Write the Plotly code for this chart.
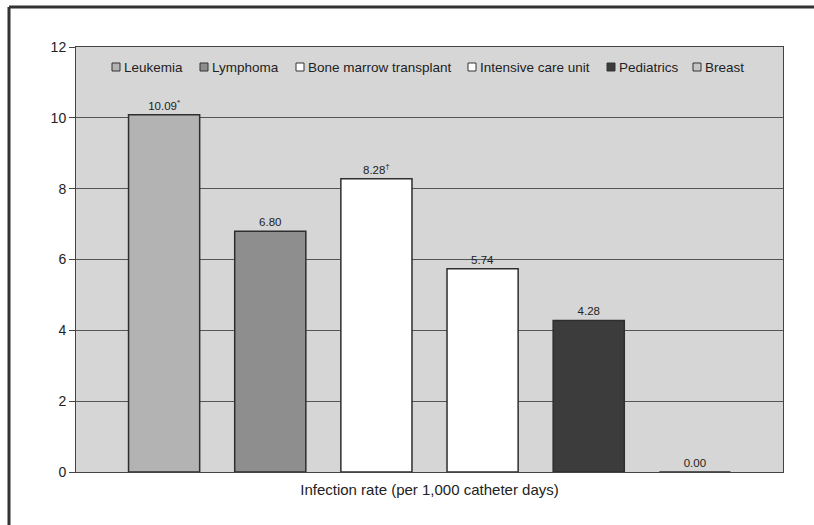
import plotly.graph_objects as go

categories = ["Leukemia", "Lymphoma", "Bone marrow transplant", "Intensive care unit", "Pediatrics", "Breast"]
values = [10.09, 6.80, 8.28, 5.74, 4.28, 0.00]
value_labels = ["10.09<sup>*</sup>", "6.80", "8.28<sup>†</sup>", "5.74", "4.28", "0.00"]
colors = ["#b3b3b3", "#8e8e8e", "#ffffff", "#ffffff", "#3c3c3c", "#c6c6c6"]
y_ticks = [0, 2, 4, 6, 8, 10, 12]
legend_x_px = [112, 200, 296, 468, 607, 693]

W, H = 814, 525
L, R, T, B = 76, 31, 47, 53
pw, ph = W - L - R, H - T - B


def px_x(p):
    return (p - L) / pw


def px_y(p):
    return 1 - (p - T) / ph


fig = go.Figure()
for i, (cat, val, lab, col) in enumerate(zip(categories, values, value_labels, colors)):
    fig.add_trace(go.Bar(
        x=[i], y=[val], name=cat, width=0.67, showlegend=False,
        marker=dict(color=col, line=dict(color="#2e2e2e", width=1.5)),
        text=[lab], textposition="outside", cliponaxis=False,
        textfont=dict(size=11.5, color="#222222"),
    ))

shapes = [
    dict(type="line", xref="paper", yref="paper", x0=px_x(9), x1=px_x(9), y0=px_y(525), y1=px_y(7),
         line=dict(color="#333333", width=3)),
    dict(type="line", xref="paper", yref="paper", x0=px_x(9), x1=px_x(814), y0=px_y(7), y1=px_y(7),
         line=dict(color="#333333", width=3)),
]
annotations = []
ly = 67
for cat, col, lx in zip(categories, colors, legend_x_px):
    shapes.append(dict(type="rect", xref="paper", yref="paper",
                       x0=px_x(lx), x1=px_x(lx + 8), y0=px_y(ly + 4), y1=px_y(ly - 4),
                       fillcolor=col, line=dict(color="#333333", width=1)))
    annotations.append(dict(text=cat, xref="paper", yref="paper", x=px_x(lx + 10), y=px_y(ly),
                            xanchor="left", yanchor="middle", showarrow=False,
                            font=dict(size=13.5, color="#222222")))

fig.update_layout(
    width=W, height=H,
    margin=dict(l=L, r=R, t=T, b=B),
    paper_bgcolor="white", plot_bgcolor="#d6d6d6",
    font=dict(family="Liberation Sans, Arial, sans-serif", color="#222222"),
    showlegend=False,
    xaxis=dict(range=[-0.83, 5.83], showticklabels=False, ticks="", showgrid=False,
               zeroline=False, showline=True, linecolor="#444444", linewidth=1, mirror=True,
               title=dict(text="Infection rate (per 1,000 catheter days)", font=dict(size=15), standoff=12)),
    yaxis=dict(range=[0, 12], tickvals=y_ticks, ticks="outside", ticklen=6, tickcolor="#444444",
               showgrid=True, gridcolor="#555555", gridwidth=1, zeroline=False,
               showline=True, linecolor="#444444", linewidth=1, mirror=True,
               tickfont=dict(size=14, color="#222222")),
    shapes=shapes,
    annotations=annotations,
)

fig.write_html("out.html", config={"displayModeBar": False},
               post_script="document.body.style.margin='0';document.body.style.overflow='hidden';")
